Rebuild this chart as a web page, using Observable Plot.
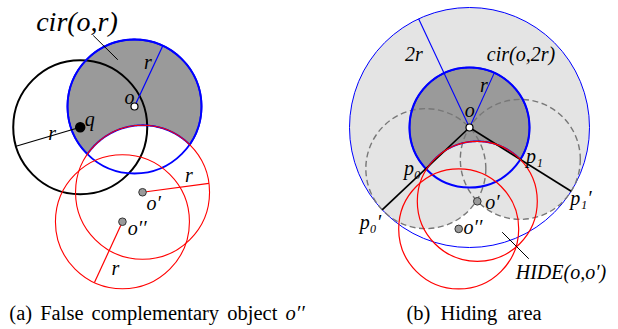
<!DOCTYPE html>
<html><head><meta charset="utf-8">
<script src="https://cdn.jsdelivr.net/npm/d3@7"></script>
<script src="https://cdn.jsdelivr.net/npm/@observablehq/plot@0.6"></script>
<style>
body{margin:0;background:#fff;}
#wrap{position:relative;width:618px;height:329px;overflow:hidden;font-family:"Liberation Serif","Times New Roman",serif;color:#000;}
.panel{position:absolute;top:0;}
.cap{position:absolute;top:302px;font-size:20.5px;line-height:23px;white-space:nowrap;transform:translateX(-50%);word-spacing:3px;}
</style></head><body>
<div id="wrap">
<div id="a" class="panel" style="left:0"></div>
<div id="b" class="panel" style="left:309px"></div>
<div class="cap" style="left:157px">(a) False complementary object <i>o′′</i></div>
<div class="cap" style="left:474px;word-spacing:5px">(b) Hiding area</div>
</div>
<script>
// ===== Panel (a): coordinates in units of r, relative to o (y up) =====
const aNames = ["o", "q", "o′", "o′′"];
const aX = [0, -0.81, 0.12, -0.18];
const aY = [0, -0.31, -1.28, -1.72];
const aCircleRadius = [1, 1, 1, 1];            // every circle has radius r
const aRadiusAngle = [65, 196.5, 7.7, 245.3];  // direction of the drawn radius (degrees)
const aLabelText = ["r", "o", "q", "r", "r", "o′", "o′′", "r"];
const aLabelX = [0.199, -0.075, -0.667, -1.228, 0.810, 0.288, 0.040, -0.284];
const aLabelY = [0.661, 0.130, -0.199, -0.407, -1.030, -1.452, -1.826, -2.422];
const aTitle = "cir(o,r)";
const aTitleXY = [-0.858, 1.254];
const aLeader = [-0.616, 1.060, -0.249, 0.697];

// ===== Panel (b): coordinates in units of r, relative to o (y up) =====
const bNames = ["o", "o′", "o′′"];
const bX = [0, 0.13, -0.18];
const bY = [0, -1.23, -1.69];
const bOuterRadius = 2;                  // cir(o,2r)
const bInnerRadius = 1;                  // cir(o,r)
const bWedgeAngle = [223.3, -32.1];      // o→p0′ , o→p1′ (degrees)
const bRadiusAngle = [115.1, 65.6];      // "2r" and "r" radii
const bRadiusLength = [2, 1];
const bLabelText = ["cir(o,2r)", "2r", "r", "o", "p₀", "p₁", "p₀′", "p₁′", "o′", "o′′", "HIDE(o,o′)"];
const bLabelX = [0.858, -0.928, 0.238, 0.005, -0.950, 1.083, -1.650, 1.858, 0.383, 0.058, 1.525];
const bLabelY = [1.217, 1.217, 0.700, 0.283, -0.683, -0.483, -1.583, -1.183, -1.25, -1.667, -2.417];
const bLeader = [0.545, -1.745, 0.988, -2.188];

// ---------------------------------------------------------------
const W = 309, H = 295;
const deg = a => a * Math.PI / 180;
const RED = "#ff0000", BLUE = "#0000ff", DARK = "#9a9a9a", LIGHT = "#e4e4e4";
const FONT = "Liberation Serif, Times New Roman, serif";
function frameScales(unit, ox, oy) {
  return {
    x: {domain: [-ox / unit, (W - ox) / unit], range: [0, W], axis: null},
    y: {domain: [(oy - H) / unit, oy / unit], range: [H, 0], axis: null},
    r: {type: "linear", domain: [0, 1], range: [0, unit]},
    color: {type: "identity"}
  };
}
const lab = {x: "x", y: "y", text: "text", fontFamily: FONT, fontStyle: "italic", fontSize: 20, fill: "black", textAnchor: "middle"};
const circ = {x: "x", y: "y", r: "rad"};

// outline of cir(o,1) minus cir(c,1): the shaded crescent (geometry from the two centres)
function crescent(o, c) {
  const vx = c.x - o.x, vy = c.y - o.y, d = Math.hypot(vx, vy);
  const beta = Math.acos(d / 2), phi = Math.atan2(vy, vx) + Math.PI;
  const pts = [];
  for (const t of d3.range(-(Math.PI - beta), Math.PI - beta + 1e-9, (Math.PI - beta) / 90))
    pts.push({x: o.x + Math.cos(phi + t), y: o.y + Math.sin(phi + t)});
  for (const t of d3.range(beta, -beta - 1e-9, -beta / 40))
    pts.push({x: c.x + Math.cos(phi + t), y: c.y + Math.sin(phi + t)});
  return pts;
}

// ---- panel (a)
const A = aNames.map((name, i) => ({name, x: aX[i], y: aY[i], rad: aCircleRadius[i], ang: aRadiusAngle[i]}));
const aRadii = A.map(d => ({
  x1: d.x, y1: d.y,
  x2: d.x + Math.cos(deg(d.ang)) * d.rad, y2: d.y + Math.sin(deg(d.ang)) * d.rad,
  color: d.name === "o" ? BLUE : d.name === "q" ? "black" : RED
}));
const aLabels = aLabelText.map((text, i) => ({text, x: aLabelX[i], y: aLabelY[i]}));
const aCres = crescent(A[0], A[2]);

const plotA = Plot.plot({
  width: W, height: H, margin: 0, ...frameScales(67, 134, 106),
  style: {background: "transparent", overflow: "visible"},
  marks: [
    Plot.line(aCres, {x: "x", y: "y", fill: DARK, stroke: "none"}),
    Plot.dot([A[1]], {...circ, fill: "none", stroke: "black", strokeWidth: 2}),
    Plot.dot([A[0]], {...circ, fill: "none", stroke: BLUE, strokeWidth: 1.8}),
    Plot.line(aCres, {x: "x", y: "y", fill: "none", stroke: BLUE, strokeWidth: 1.8}),
    Plot.dot([A[2], A[3]], {...circ, fill: "none", stroke: RED, strokeWidth: 1.1}),
    Plot.link(aRadii, {x1: "x1", y1: "y1", x2: "x2", y2: "y2", stroke: "color", strokeWidth: 1.2}),
    Plot.link([aLeader], {x1: d => d[0], y1: d => d[1], x2: d => d[2], y2: d => d[3], stroke: "black", strokeWidth: 1}),
    Plot.dot([A[0]], {x: "x", y: "y", r: 3.5, fill: "white", stroke: "black", strokeWidth: 1.2}),
    Plot.dot([A[1]], {x: "x", y: "y", r: 4.5, fill: "black", stroke: "black"}),
    Plot.dot([A[2], A[3]], {x: "x", y: "y", r: 3.8, fill: DARK, stroke: "#333", strokeWidth: 1}),
    Plot.text(aLabels, lab),
    Plot.text([{text: aTitle, x: aTitleXY[0], y: aTitleXY[1]}], {...lab, fontSize: 28})
  ]
});
document.getElementById("a").append(plotA);

// ---- panel (b)
const B = bNames.map((name, i) => ({name, x: bX[i], y: bY[i], rad: bInnerRadius}));
const bOuter = [{x: 0, y: 0, rad: bOuterRadius}];
const bP = bWedgeAngle.map(a => ({x: Math.cos(deg(a)), y: Math.sin(deg(a)), rad: bInnerRadius}));     // p0, p1
const bWedgeLines = bWedgeAngle.map(a => ({x1: 0, y1: 0, x2: bOuterRadius * Math.cos(deg(a)), y2: bOuterRadius * Math.sin(deg(a))}));
const reach = bOuterRadius * 1.3;
const midAngle = (bWedgeAngle[0] + (bWedgeAngle[1] + 360)) / 2;
const bWedgePoly = [{x: 0, y: 0}, ...[bWedgeAngle[0], midAngle, bWedgeAngle[1]].map(a => ({x: reach * Math.cos(deg(a)), y: reach * Math.sin(deg(a))}))];
const bRadii = bRadiusAngle.map((a, i) => ({x1: 0, y1: 0, x2: bRadiusLength[i] * Math.cos(deg(a)), y2: bRadiusLength[i] * Math.sin(deg(a))}));
const bLabels = bLabelText.map((text, i) => ({text, x: bLabelX[i], y: bLabelY[i]}));
const bCres = crescent(B[0], B[1]);

const plotB = Plot.plot({
  width: W, height: H, margin: 0, ...frameScales(60, 160, 127),
  style: {background: "transparent", overflow: "visible"},
  marks: [
    Plot.dot(bOuter, {...circ, fill: LIGHT, stroke: "none"}),
    Plot.line(bWedgePoly, {x: "x", y: "y", fill: "white", stroke: "none"}),
    Plot.dot(bP, {...circ, fill: LIGHT, stroke: "none"}),
    Plot.line(bCres, {x: "x", y: "y", fill: DARK, stroke: "none"}),
    Plot.dot(bOuter, {...circ, fill: "none", stroke: BLUE, strokeWidth: 1}),
    Plot.dot(bP, {...circ, fill: "none", stroke: "#777", strokeWidth: 1.4, strokeDasharray: "6,3.5"}),
    Plot.dot([B[0]], {...circ, fill: "none", stroke: BLUE, strokeWidth: 2}),
    Plot.line(bCres, {x: "x", y: "y", fill: "none", stroke: BLUE, strokeWidth: 1.6}),
    Plot.link(bWedgeLines, {x1: "x1", y1: "y1", x2: "x2", y2: "y2", stroke: "black", strokeWidth: 1.7}),
    Plot.link(bRadii, {x1: "x1", y1: "y1", x2: "x2", y2: "y2", stroke: BLUE, strokeWidth: 1.1}),
    Plot.dot([B[1], B[2]], {...circ, fill: "none", stroke: RED, strokeWidth: 1.2}),
    Plot.link([bLeader], {x1: d => d[0], y1: d => d[1], x2: d => d[2], y2: d => d[3], stroke: "black", strokeWidth: 1}),
    Plot.dot([B[0]], {x: "x", y: "y", r: 3.5, fill: "white", stroke: "black", strokeWidth: 1.2}),
    Plot.dot([B[1], B[2]], {x: "x", y: "y", r: 3.8, fill: DARK, stroke: "#333", strokeWidth: 1}),
    Plot.text(bLabels, lab)
  ]
});
document.getElementById("b").append(plotB);
</script>
</body></html>
